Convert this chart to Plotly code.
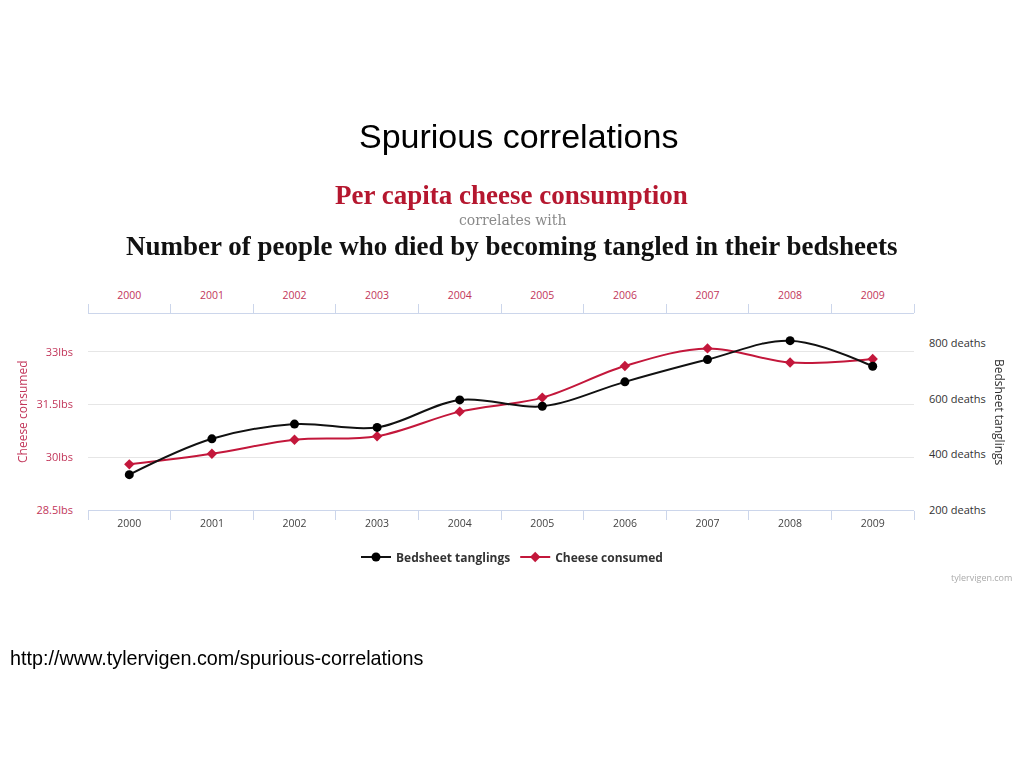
import plotly.graph_objects as go

years = [2000, 2001, 2002, 2003, 2004, 2005, 2006, 2007, 2008, 2009]
cheese_lbs = [29.8, 30.1, 30.5, 30.6, 31.3, 31.7, 32.6, 33.1, 32.7, 32.8]
bedsheet_deaths = [327, 456, 509, 497, 596, 573, 661, 741, 809, 717]
cheese_ticks = [28.5, 30, 31.5, 33]
cheese_ticktext = ["28.5lbs", "30lbs", "31.5lbs", "33lbs"]
death_ticks = [200, 400, 600, 800]
death_ticktext = ["200 deaths", "400 deaths", "600 deaths", "800 deaths"]

RED = "#c3173b"
LABEL_RED = "#c2365a"
AXIS = "#ccd6eb"
GRID = "#e6e6e6"
W, H = 1024, 768
L, R, T, B = 88, 914, 314, 510


def px(x):
    return (x - L) / (R - L)


def py(y):
    return (B - y) / (B - T)


fig = go.Figure()
fig.add_trace(go.Scatter(
    x=years, y=cheese_lbs, name="Cheese consumed", mode="lines+markers",
    line=dict(color=RED, width=2, shape="spline", smoothing=1),
    marker=dict(symbol="diamond", size=8, color=RED),
    xaxis="x", yaxis="y", legendrank=2,
))
fig.add_trace(go.Scatter(
    x=years, y=bedsheet_deaths, name="Bedsheet tanglings", mode="lines+markers",
    line=dict(color="#111111", width=2, shape="spline", smoothing=1),
    marker=dict(symbol="circle", size=9, color="#000000"),
    xaxis="x", yaxis="y2", legendrank=1,
))
# invisible carrier so the top year axis is drawn
fig.add_trace(go.Scatter(
    x=years, y=cheese_lbs, mode="markers", opacity=0, showlegend=False,
    hoverinfo="skip", xaxis="x2", yaxis="y",
))

xr = [years[0] - 0.5, years[-1] + 0.5]
common_x = dict(
    range=xr, tickmode="array", tickvals=years, ticktext=[str(y) for y in years],
    ticks="", showgrid=False, zeroline=False, showline=True, linecolor=AXIS, linewidth=1,
    minor=dict(tick0=years[0] - 0.5, dtick=1, ticks="outside", ticklen=9,
               tickcolor=AXIS, tickwidth=1, showgrid=False),
)
fig.update_layout(
    width=W, height=H,
    margin=dict(l=L, r=W - R, t=T, b=H - B, pad=0),
    paper_bgcolor="white", plot_bgcolor="white",
    font=dict(family="Open Sans", size=11, color="#555555"),
    showlegend=True,
    legend=dict(orientation="h", x=px(512), xanchor="center", y=py(557), yanchor="middle",
                font=dict(family="Open Sans", size=12, color="#333333", weight="bold"),
                bgcolor="rgba(0,0,0,0)", itemwidth=30),
    xaxis=dict(**common_x, side="bottom", anchor="y",
               tickfont=dict(family="Open Sans", size=10.5, color="#444444"),
               ticklabelstandoff=3),
    xaxis2=dict(**common_x, side="top", anchor="y", overlaying="x",
                tickfont=dict(family="Open Sans", size=10.5, color=LABEL_RED),
                ticklabelstandoff=10),
    yaxis=dict(range=[28.5, 34.08], tickmode="array", tickvals=cheese_ticks,
               ticktext=cheese_ticktext, showgrid=True, gridcolor=GRID, gridwidth=1,
               zeroline=False, showline=False, ticks="",
               tickfont=dict(family="Open Sans", size=11, color=LABEL_RED),
               ticklabelstandoff=14),
    yaxis2=dict(range=[200, 905], overlaying="y", side="right", anchor="x",
                tickmode="array", tickvals=death_ticks, ticktext=death_ticktext,
                showgrid=False, zeroline=False, showline=False, ticks="",
                tickfont=dict(family="Open Sans", size=11, color="#333333"),
                ticklabelstandoff=14),
)

ann = [
    dict(text="Spurious correlations", x=px(518), y=py(136),
         font=dict(family="Liberation Sans", size=34, color="#000000")),
    dict(text="<b>Per capita cheese consumption</b>", x=px(511.5), y=py(195),
         font=dict(family="Liberation Serif", size=27, color="#b5172f")),
    dict(text="correlates with", x=px(512), y=py(220),
         font=dict(family="DejaVu Serif", size=14, color="#8a8a8a")),
    dict(text="<b>Number of people who died by becoming tangled in their bedsheets</b>",
         x=px(511.5), y=py(246),
         font=dict(family="Liberation Serif", size=27, color="#111111")),
    dict(text="http://www.tylervigen.com/spurious-correlations", x=px(8), y=py(658),
         xanchor="left", font=dict(family="Liberation Sans", size=19.8, color="#000000")),
    dict(text="tylervigen.com", x=px(1014), y=py(577), xanchor="right",
         font=dict(family="Open Sans", size=9, color="#aaaaaa")),
    dict(text="Cheese consumed", x=px(22), y=py(412), textangle=-90,
         font=dict(family="Open Sans", size=12, color=LABEL_RED)),
    dict(text="Bedsheet tanglings", x=px(1000), y=py(412), textangle=90,
         font=dict(family="Open Sans", size=12, color="#333333")),
]
for a in ann:
    a.setdefault("xanchor", "center")
    fig.add_annotation(xref="paper", yref="paper", showarrow=False, yanchor="middle", **a)

fig.write_html("out.html", config={"displayModeBar": False},
               post_script="document.body.style.margin='0';document.body.style.padding='0';")
